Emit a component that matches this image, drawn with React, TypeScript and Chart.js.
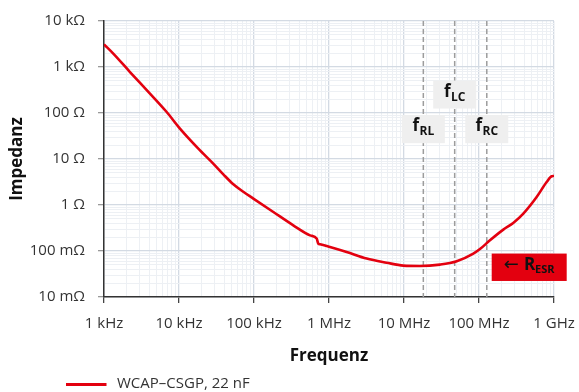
import React, { useEffect, useRef } from 'react';
import { Chart, registerables } from 'chart.js';

Chart.register(...registerables);

// ---- data ----
const frequencyHz = [
  1e3, 1.33e3, 2.22e3, 4.1e3, 6.85e3, 1.03e4, 1.81e4, 2.86e4, 3.9e4, 5.3e4, 7.19e4, 9.8e4,
  1.81e5, 3.34e5, 5.58e5, 6.85e5, 7.2e5, 7.6e5, 1.03e6, 1.72e6, 3.18e6, 5.87e6,
  9.8e6, 1.63e7, 3.02e7, 5.05e7, 8.4e7, 1.03e8, 1.4e8, 2.11e8, 2.86e8, 3.9e8,
  5.87e8, 7.98e8, 9.31e8, 1e9,
];
const impedanceOhm = [
  3110, 1955, 778, 264, 105, 45.8, 16.8, 7.94, 4.64, 2.82, 1.94, 1.38,
  0.705, 0.362, 0.219, 0.186, 0.145, 0.14, 0.122, 0.095, 0.0684, 0.0556,
  0.0481, 0.0472, 0.0506, 0.0597, 0.0877, 0.11, 0.171, 0.292, 0.407, 0.65,
  1.49, 3.16, 4.21, 4.27,
];
const seriesName = 'WCAP\u2013CSGP, 22 nF';

const xTickValues = [1e3, 1e4, 1e5, 1e6, 1e7, 1e8, 1e9];
const xTickLabels = ['1 kHz', '10 kHz', '100 kHz', '1 MHz', '10 MHz', '100 MHz', '1 GHz'];
const yTickValues = [0.01, 0.1, 1, 10, 100, 1000, 10000];
const yTickLabels = ['10 m\u03A9', '100 m\u03A9', '1 \u03A9', '10 \u03A9', '100 \u03A9', '1 k\u03A9', '10 k\u03A9'];

const markerNames = ['RL', 'LC', 'RC'];
const markerFreqHz = [1.81e7, 4.74e7, 1.27e8];
const esrLabel = 'ESR';

// ---- styles / positions ----
const RED = '#e3000f';
const FONT = '"Open Sans", "Noto Sans", "DejaVu Sans", sans-serif';
const markerLabelOhm = [44.5, 252, 44.5];
const esrCenter = { x: 4.67e8, y: 0.0443 };

function minorTicks(values: number[]) {
  const out: number[] = [];
  for (let i = 0; i < values.length - 1; i++) {
    for (let m = 1; m < 10; m++) out.push(values[i] * m);
  }
  out.push(values[values.length - 1]);
  return out;
}
const xAllTicks = minorTicks(xTickValues);
const yAllTicks = minorTicks(yTickValues);

function decadeIndex(values: number[], v: number) {
  return values.findIndex((d) => Math.abs(Math.log10(d) - Math.log10(v)) < 1e-6);
}

type Part = { text: string; font: string; dy: number; gap?: number };
function drawParts(ctx: CanvasRenderingContext2D, cx: number, cy: number, parts: Part[], color: string) {
  let total = 0;
  const widths = parts.map((p) => {
    ctx.font = p.font;
    const w = ctx.measureText(p.text).width;
    total += w + (p.gap || 0);
    return w;
  });
  let x = cx - total / 2;
  ctx.fillStyle = color;
  ctx.textAlign = 'left';
  ctx.textBaseline = 'alphabetic';
  parts.forEach((p, i) => {
    ctx.font = p.font;
    ctx.fillText(p.text, x, cy + p.dy);
    x += widths[i] + (p.gap || 0);
  });
}

const annotationPlugin = {
  id: 'impedanceAnnotations',
  beforeDatasetsDraw(chart: any) {
    const { ctx, chartArea, scales } = chart;
    ctx.save();
    ctx.strokeStyle = '#9c9c9c';
    ctx.lineWidth = 1.5;
    ctx.setLineDash([5, 3]);
    markerFreqHz.forEach((f) => {
      const px = scales.x.getPixelForValue(f);
      ctx.beginPath();
      ctx.moveTo(px, chartArea.top);
      ctx.lineTo(px, chartArea.bottom);
      ctx.stroke();
    });
    ctx.restore();
  },
  afterDatasetsDraw(chart: any) {
    const { ctx, scales } = chart;
    ctx.save();
    markerFreqHz.forEach((f, i) => {
      const cx = scales.x.getPixelForValue(f);
      const cy = scales.y.getPixelForValue(markerLabelOhm[i]);
      ctx.fillStyle = '#efefef';
      ctx.fillRect(cx - 21.5, cy - 14, 43, 28);
      drawParts(ctx, cx, cy, [
        { text: 'f', font: `bold 17px ${FONT}`, dy: 2, gap: 0.5 },
        { text: markerNames[i], font: `bold 12px ${FONT}`, dy: 6 },
      ], '#111');
    });
    const ex = scales.x.getPixelForValue(esrCenter.x);
    const ey = scales.y.getPixelForValue(esrCenter.y);
    ctx.fillStyle = RED;
    ctx.fillRect(ex - 37.5, ey - 13.7, 75, 27.4);
    drawParts(ctx, ex, ey, [
      { text: '\u2190', font: `18px ${FONT}`, dy: 3, gap: 5 },
      { text: 'R', font: `bold 17px ${FONT}`, dy: 2.5 },
      { text: esrLabel, font: `bold 11px ${FONT}`, dy: 6 },
    ], '#111');
    ctx.restore();
  },
  afterDraw(chart: any) {
    const { ctx, chartArea } = chart;
    const x0 = chartArea.left - 38;
    const yLine = 384.5;
    ctx.save();
    ctx.strokeStyle = RED;
    ctx.lineWidth = 3;
    ctx.beginPath();
    ctx.moveTo(x0, yLine);
    ctx.lineTo(x0 + 40.5, yLine);
    ctx.stroke();
    ctx.fillStyle = '#333';
    ctx.font = `15px ${FONT}`;
    ctx.textAlign = 'left';
    ctx.textBaseline = 'middle';
    ctx.fillText(seriesName, x0 + 51, yLine - 1);
    ctx.restore();
  },
};

const isDecade = (v: number) => {
  const l = Math.log10(v);
  return Math.abs(l - Math.round(l)) < 1e-6;
};
const gridColor = (c: any) => (c.tick && isDecade(c.tick.value) ? '#d3dae3' : '#edf0f4');
const gridWidth = (c: any) => (c.tick && isDecade(c.tick.value) ? 1.3 : 1);

export default function App() {
  const ref = useRef<HTMLCanvasElement>(null);
  useEffect(() => {
    const chart = new Chart(ref.current as HTMLCanvasElement, {
      type: 'line',
      data: {
        datasets: [
          {
            label: seriesName,
            data: frequencyHz.map((f, i) => ({ x: f, y: impedanceOhm[i] })),
            borderColor: RED,
            backgroundColor: RED,
            borderWidth: 2.6,
            pointRadius: 0,
            cubicInterpolationMode: 'monotone',
            fill: false,
          },
        ],
      },
      options: {
        animation: false,
        responsive: true,
        maintainAspectRatio: false,
        layout: { padding: { left: 0, right: 25, top: 21, bottom: 22 } },
        plugins: {
          legend: { display: false },
          tooltip: { enabled: false },
        },
        scales: {
          x: {
            type: 'logarithmic',
            min: 1e3,
            max: 1e9,
            afterBuildTicks: (s: any) => {
              s.ticks = xAllTicks.map((v) => ({ value: v }));
            },
            afterFit: (s: any) => {
              s.height = 73;
              s.paddingLeft = 0;
              s.paddingRight = 0;
            },
            border: { display: true, color: '#333', width: 1.5 },
            grid: {
              color: gridColor,
              lineWidth: gridWidth,
              drawTicks: true,
              tickLength: 6,
              tickColor: (c: any) => (c.tick && isDecade(c.tick.value) ? '#444' : 'rgba(0,0,0,0)'),
            },
            ticks: {
              autoSkip: false,
              maxRotation: 0,
              minRotation: 0,
              padding: 12,
              color: '#333',
              font: { family: FONT, size: 15 },
              callback: (v: any) => {
                const i = decadeIndex(xTickValues, Number(v));
                return i >= 0 ? xTickLabels[i] : '';
              },
            },
            title: {
              display: true,
              text: 'Frequenz',
              color: '#111',
              font: { family: FONT, size: 17, weight: 'bold' },
              padding: { top: 4, bottom: 4 },
            },
          },
          y: {
            type: 'logarithmic',
            min: 0.01,
            max: 10000,
            afterBuildTicks: (s: any) => {
              s.ticks = yAllTicks.map((v) => ({ value: v }));
            },
            afterFit: (s: any) => {
              s.width = 104;
              s.paddingTop = 0;
              s.paddingBottom = 0;
            },
            border: { display: true, color: '#333', width: 1.5 },
            grid: {
              color: gridColor,
              lineWidth: gridWidth,
              drawTicks: true,
              tickLength: 6,
              tickColor: (c: any) => (c.tick && isDecade(c.tick.value) ? '#999' : 'rgba(0,0,0,0)'),
            },
            ticks: {
              autoSkip: false,
              padding: 13,
              color: '#333',
              font: { family: FONT, size: 15 },
              callback: (v: any) => {
                const i = decadeIndex(yTickValues, Number(v));
                return i >= 0 ? yTickLabels[i] : '';
              },
            },
            title: {
              display: true,
              text: 'Impedanz',
              color: '#111',
              font: { family: FONT, size: 17, weight: 'bold' },
              padding: { top: 7, bottom: 0 },
            },
          },
        },
      },
      plugins: [annotationPlugin],
    } as any);
    return () => chart.destroy();
  }, []);
  return (
    <div style={{ position: 'fixed', left: 0, top: 0, width: 579, height: 392 }}>
      <canvas ref={ref} />
    </div>
  );
}
